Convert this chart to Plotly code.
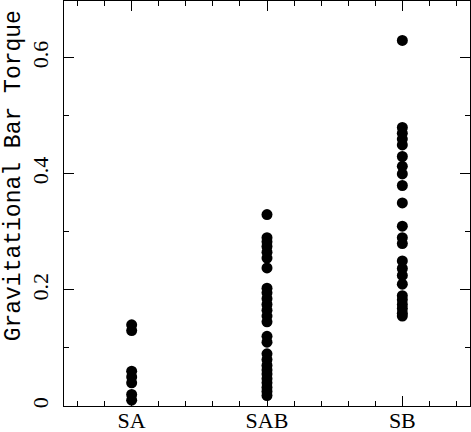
import plotly.graph_objects as go

# bar classes and measured torques
categories = ["SA", "SAB", "SB"]
torque_sa = [0.14, 0.13, 0.06, 0.05, 0.04, 0.02, 0.01]
torque_sab = [0.33, 0.29, 0.283, 0.275, 0.265, 0.255, 0.238,
              0.203, 0.195, 0.185, 0.175, 0.165, 0.155, 0.145,
              0.12, 0.11,
              0.09, 0.08, 0.07, 0.062, 0.055, 0.047, 0.04, 0.032, 0.025, 0.018]
torque_sb = [0.63, 0.48, 0.47, 0.46, 0.45, 0.43, 0.413, 0.40, 0.38, 0.35,
             0.31, 0.29, 0.28, 0.25, 0.237, 0.225, 0.21,
             0.19, 0.183, 0.175, 0.168, 0.16, 0.155]
y_ticks = [0, 0.2, 0.4, 0.6]

series = dict(zip(categories, [torque_sa, torque_sab, torque_sb]))

xs, ys = [], []
for i, cat in enumerate(categories):
    xs += [i + 1] * len(series[cat])
    ys += series[cat]

tick_font = dict(family="Liberation Serif", size=22, color="black")

fig = go.Figure(go.Scatter(
    x=xs, y=ys, mode="markers",
    marker=dict(size=11, color="black", line=dict(width=0)),
))

fig.update_layout(
    width=471, height=432,
    margin=dict(l=64, r=1, t=1, b=26),
    paper_bgcolor="white", plot_bgcolor="white",
    showlegend=False,
)

fig.update_xaxes(
    range=[0.5, 3.5], automargin=False,
    tickmode="array", tickvals=list(range(1, len(categories) + 1)), ticktext=categories,
    ticklabelstandoff=-5,
    ticks="inside", ticklen=10, tickwidth=1, tickcolor="black",
    showline=True, linecolor="black", linewidth=1, mirror="ticks",
    showgrid=False, zeroline=False,
    minor=dict(ticks="inside", ticklen=5, tick0=0, dtick=0.2, tickcolor="black", showgrid=False),
    tickfont=tick_font,
)

fig.update_yaxes(
    range=[0, 0.698], automargin=False,
    tickmode="array", tickvals=y_ticks, ticktext=["0", "0.2", "0.4", "0.6"],
    tickangle=-90, ticklabelstandoff=6,
    ticks="inside", ticklen=10, tickwidth=1, tickcolor="black",
    showline=True, linecolor="black", linewidth=1, mirror="ticks",
    showgrid=False, zeroline=False,
    minor=dict(ticks="inside", ticklen=5, tick0=0, dtick=0.1, tickcolor="black", showgrid=False),
    tickfont=tick_font,
)

fig.add_annotation(
    text="Gravitational Bar Torque", textangle=-90,
    xref="paper", yref="paper", x=0, y=0.567,
    xanchor="left", yanchor="middle",
    xshift=-65, showarrow=False,
    font=dict(family="Liberation Mono", size=23, color="black"),
)

# the page body has an 8px default margin; drop it so the figure sits at 0,0
fig.write_html("out.html", config={"displayModeBar": False},
               post_script="document.body.style.margin='0';")
